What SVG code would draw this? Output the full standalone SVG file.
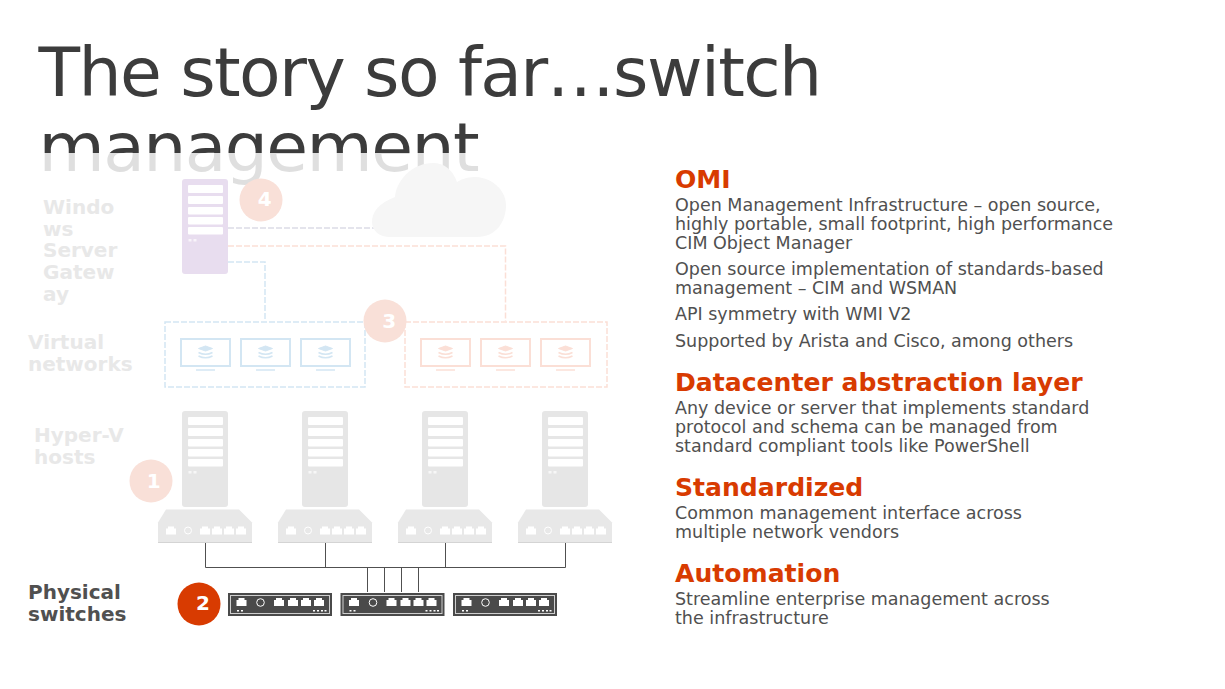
<svg xmlns="http://www.w3.org/2000/svg" width="1225" height="689" viewBox="0 0 1225 689">
<style>
text{font-family:"DejaVu Sans",sans-serif}
.title{font-size:68px;letter-spacing:-1.6px;fill:#3c3c3c}
.h{font-size:25.1px;font-weight:700;fill:#d83b01}
.b{font-size:17.5px;fill:#505050}
.lab{font-size:20px;font-weight:700;fill:#e8e8e8}
.dark{fill:#505050}
.num{font-size:20px;font-weight:700;fill:#fff;text-anchor:middle}
.tint{fill:#f9e0d8}
.wire{fill:none;stroke:#505050;stroke-width:1}
.dash{fill:none;stroke-width:1.5;stroke-dasharray:6 2}
.blue{stroke:#d3e6f3}
.pink{stroke:#fbdfd6}
.grey{stroke:#dcdce6}
.p{fill:#fff}
</style>
<defs>
<g id="bars">
<rect class="p" x="6" y="6" width="35" height="8" rx="1"/>
<rect class="p" x="6" y="17" width="35" height="8" rx="1"/>
<rect class="p" x="6" y="28" width="35" height="7.500" rx="1"/>
<rect class="p" x="6" y="38" width="35" height="7.500" rx="1"/>
<rect class="p" x="6" y="48" width="35" height="7.500" rx="1"/>
<g opacity=".7"><rect class="p" x="6.500" y="60" width="3" height="2.500"/>
<rect class="p" x="11.500" y="60" width="3" height="2.500"/></g>
</g>
<path id="port" d="M0 2h2v-2h6v2h2v6h-10z"/>
<g id="base">
<path d="M8 0H81L94 13V33H0V13Z" fill="#e8e8e8"/>
<path d="M0 33H94" stroke="#d4d4d4" stroke-width="1"/>
<use href="#port" x="8" y="17" fill="#fff"/>
<circle cx="30" cy="21" r="3.500" fill="none" stroke="#fff" stroke-width="1"/>
<use href="#port" x="42" y="17" fill="#fff"/>
<use href="#port" x="54" y="17" fill="#fff"/>
<use href="#port" x="66" y="17" fill="#fff"/>
<use href="#port" x="78" y="17" fill="#fff"/>
</g>
<g id="switch">
<rect width="104" height="23" fill="#4a4a4a"/>
<rect x="2.500" y="2.500" width="99" height="18" fill="none" stroke="#cfcfcf" stroke-width="1"/>
<use href="#port" x="8.500" y="5" fill="#fff"/>
<circle cx="32.500" cy="9.500" r="3.800" fill="none" stroke="#fff" stroke-width="1"/>
<use href="#port" x="46" y="5" fill="#fff"/>
<use href="#port" x="60" y="5" fill="#fff"/>
<use href="#port" x="73" y="5" fill="#fff"/>
<use href="#port" x="86" y="5" fill="#fff"/>
<g fill="#fff"><rect x="9" y="17" width="2" height="1.500"/><rect x="13" y="17" width="2" height="1.500"/><rect x="85" y="17" width="2" height="1.500"/><rect x="89" y="17" width="2" height="1.500"/><rect x="93" y="17" width="2" height="1.500"/><rect x="96.500" y="17" width="2" height="1.500"/></g>
</g>
<g id="stack"><path d="M-7 -3.500 L0 -6 L7 -3.500 L0 -1Z"/><path d="M-7 0.500 Q0 4 7 0.500M-7 4 Q0 7.500 7 4" fill="none" stroke-width="1.500"/></g>
</defs>

<text class="title" x="38.500" y="96">The story so far…switch</text>
<text class="title" x="38.500" y="171">management</text>
<rect x="0" y="153" width="640" height="40" fill="#fff" fill-opacity=".84"/>

<g id="connectors">
<path class="dash grey" d="M228 228H376"/>
<path class="dash pink" d="M228 246H505.500V321"/>
<path class="dash blue" d="M228 262H265V321"/>
<path class="wire" d="M205.500 543V567.500H565.500V543M325.500 543V567.500M445.500 543V567.500M367.500 567.500V592M384.500 567.500V592M401.500 567.500V592M418.500 567.500V592"/>
</g>

<g id="label-gateway"><text class="lab" x="43" y="214">Windo</text><text class="lab" x="43" y="236">ws</text><text class="lab" x="43" y="257">Server</text><text class="lab" x="43" y="279">Gatew</text><text class="lab" x="43" y="301">ay</text></g>
<g id="label-virtual"><text class="lab" x="28" y="349">Virtual</text><text class="lab" x="28" y="371">networks</text></g>
<g id="label-hosts"><text class="lab" x="34" y="442">Hyper-V</text><text class="lab" x="34" y="464">hosts</text></g>
<g id="label-physical"><text class="lab dark" x="28" y="599">Physical</text><text class="lab dark" x="28" y="621">switches</text></g>

<g id="gateway"><rect x="182" y="179" width="46" height="95" rx="3" fill="#e8ddef"/><use href="#bars" x="182" y="179"/></g>
<g id="cloud"><path d="M372 222C372 212 379 203 395 197C397 178 414 163 433 163C444 163 453 170 457 182C463 178 470 177 476 177C493 178 506 191 506 205C506 222 496 237 477 237H390C380 237 372 231 372 222Z" fill="#f6f6f6"/></g>

<g id="network-blue">
<rect class="dash blue" x="165" y="322" width="200" height="65"/>
<g fill="#fff" stroke="#d3e6f3" stroke-width="2"><rect x="181" y="339" width="49" height="27"/><rect x="241" y="339" width="49" height="27"/><rect x="301" y="339" width="49" height="27"/></g>
<g fill="#d3e6f3" stroke="#d3e6f3"><use href="#stack" x="205.500" y="352"/><use href="#stack" x="265.500" y="352"/><use href="#stack" x="325.500" y="352"/></g>
<path d="M196 370H215M256 370H275M316 370H335" stroke="#d3e6f3" stroke-width="1.500"/>
</g>
<g id="network-pink">
<rect class="dash pink" x="405" y="322" width="202" height="65"/>
<g fill="#fff" stroke="#fbdfd6" stroke-width="2"><rect x="421" y="339" width="49" height="27"/><rect x="481" y="339" width="49" height="27"/><rect x="541" y="339" width="49" height="27"/></g>
<g fill="#fbdfd6" stroke="#fbdfd6"><use href="#stack" x="445.500" y="352"/><use href="#stack" x="505.500" y="352"/><use href="#stack" x="565.500" y="352"/></g>
<path d="M436 370H455M496 370H515M556 370H575" stroke="#fbdfd6" stroke-width="1.500"/>
</g>

<g id="host-1"><rect x="182" y="411" width="46" height="96" rx="3" fill="#e6e6e6"/><use href="#bars" x="182" y="411"/><use href="#base" x="158" y="509.500"/></g>
<g id="host-2"><rect x="302" y="411" width="46" height="96" rx="3" fill="#e6e6e6"/><use href="#bars" x="302" y="411"/><use href="#base" x="278" y="509.500"/></g>
<g id="host-3"><rect x="422" y="411" width="46" height="96" rx="3" fill="#e6e6e6"/><use href="#bars" x="422" y="411"/><use href="#base" x="398" y="509.500"/></g>
<g id="host-4"><rect x="542" y="411" width="46" height="96" rx="3" fill="#e6e6e6"/><use href="#bars" x="542" y="411"/><use href="#base" x="518" y="509.500"/></g>

<g id="switch-1"><use href="#switch" x="228" y="593"/></g>
<g id="switch-2"><use href="#switch" x="340.500" y="593"/></g>
<g id="switch-3"><use href="#switch" x="453" y="593"/></g>

<g id="badge-1"><circle class="tint" cx="151" cy="481" r="21.500"/><text class="num" x="153.700" y="488">1</text></g>
<g id="badge-2"><circle cx="199" cy="604" r="21.500" fill="#d83b01"/><text class="num" x="203" y="610">2</text></g>
<g id="badge-3"><circle class="tint" cx="385" cy="321" r="21.500"/><text class="num" x="389.200" y="328">3</text></g>
<g id="badge-4"><circle class="tint" cx="261" cy="200" r="21.500"/><text class="num" x="264.700" y="206">4</text></g>

<g id="notes">
<text class="h" x="675" y="188">OMI</text>
<text class="b" x="675" y="211">Open Management Infrastructure – open source,</text>
<text class="b" x="675" y="230">highly portable, small footprint, high performance</text>
<text class="b" x="675" y="249">CIM Object Manager</text>
<text class="b" x="675" y="275">Open source implementation of standards-based</text>
<text class="b" x="675" y="294">management – CIM and WSMAN</text>
<text class="b" x="675" y="320">API symmetry with WMI V2</text>
<text class="b" x="675" y="347">Supported by Arista and Cisco, among others</text>
<text class="h" x="675" y="391">Datacenter abstraction layer</text>
<text class="b" x="675" y="414">Any device or server that implements standard</text>
<text class="b" x="675" y="433">protocol and schema can be managed from</text>
<text class="b" x="675" y="452">standard compliant tools like PowerShell</text>
<text class="h" x="675" y="496">Standardized</text>
<text class="b" x="675" y="519">Common management interface across</text>
<text class="b" x="675" y="538">multiple network vendors</text>
<text class="h" x="675" y="582">Automation</text>
<text class="b" x="675" y="605">Streamline enterprise management across</text>
<text class="b" x="675" y="624">the infrastructure</text>
</g>
</svg>
